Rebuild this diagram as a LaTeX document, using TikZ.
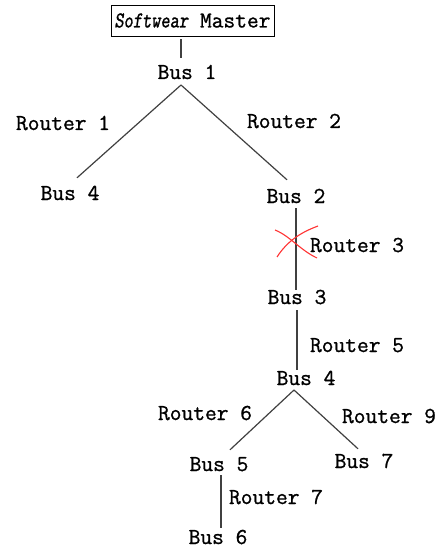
\documentclass[tikz,border=0pt]{standalone}
\usepackage{fontspec}
\newfontfamily\courf{Latin Modern Mono}[FakeBold=1.0]
\newfontfamily\courslf{Latin Modern Mono Slanted}[FakeBold=1.0, FakeStretch=0.77]
\begin{document}
\begin{tikzpicture}[x=1pt,y=-1pt,
  lbl/.style={font=\courf\fontsize{22.8}{24}\selectfont, inner sep=0pt, anchor=center, text depth=0pt, text height=12pt},
  link/.style={draw=black!75, line width=1.2pt},
  cross/.style={draw=red!80!white, line width=1.1pt}]
\useasboundingbox (0,0) rectangle (442,548);
\node[draw, line width=0.9pt, minimum width=163pt, minimum height=31pt, inner sep=0pt,
  font=\courf\fontsize{22.8}{24}\selectfont] (master) at (192.5,20.5) {{\courslf Softwear} Master};
\node[lbl] (bus1) at (187,73) {Bus 1};
\node[lbl] (bus4a) at (70,194) {Bus 4};
\node[lbl] (bus2) at (296,197) {Bus 2};
\node[lbl] (bus3) at (297,298) {Bus 3};
\node[lbl] (bus4b) at (306,379) {Bus 4};
\node[lbl] (bus5) at (219,465) {Bus 5};
\node[lbl] (bus7) at (364,462) {Bus 7};
\node[lbl] (bus6) at (218,538) {Bus 6};
\node[lbl] (r1) at (63,124) {Router 1};
\node[lbl] (r2) at (294,122) {Router 2};
\node[lbl] (r3) at (357,246) {Router 3};
\node[lbl] (r5) at (357,346) {Router 5};
\node[lbl] (r6) at (205,414) {Router 6};
\node[lbl] (r9) at (389,417) {Router 9};
\node[lbl] (r7) at (276,498) {Router 7};
\coordinate (top1) at (181,85);
\coordinate (top4) at (294,390);
\draw[link] ([yshift=-3pt]master.south -| top1) -- ([yshift=9pt]bus1.north -| top1);
\draw[link] (top1) -- ([xshift=7pt,yshift=10pt]bus4a.north);
\draw[link] (top1) -- ([xshift=-9pt,yshift=11pt]bus2.north);
\draw[link] ([yshift=-5pt]bus2.south) -- ([yshift=2pt]bus3.north -| bus2.south);
\draw[link] ([yshift=-6pt]bus3.south) -- ([yshift=3pt]bus4b.north -| bus3.south);
\draw[link] (top4) -- ([xshift=11pt,yshift=9pt]bus5.north);
\draw[link] (top4) -- ([xshift=-6pt,yshift=7pt]bus7.north);
\draw[link] ([xshift=2pt,yshift=-4pt]bus5.south) -- ([xshift=3pt,yshift=4pt]bus6.north);
\draw[cross] (275,230) .. controls (290,236) and (300,250) .. (317,258);
\draw[cross] (277,257) .. controls (288,240) and (302,232) .. (318,226);
\end{tikzpicture}
\end{document}
